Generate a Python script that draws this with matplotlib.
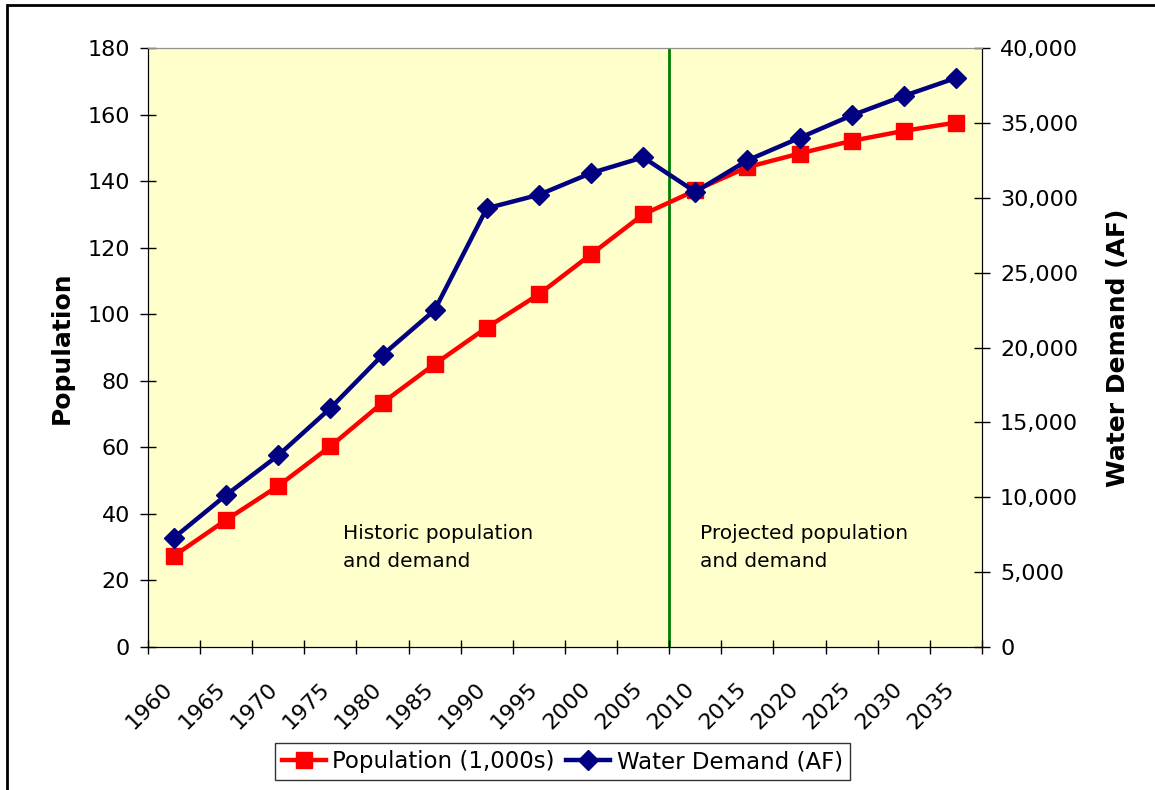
import numpy as np
import matplotlib.pyplot as plt
from matplotlib.patches import Rectangle
from matplotlib.ticker import FuncFormatter

plt.rcParams['font.family'] = ['DejaVu Sans']

# categorias (años) y series
years = ['1960', '1965', '1970', '1975', '1980', '1985', '1990', '1995',
         '2000', '2005', '2010', '2015', '2020', '2025', '2030', '2035']
population = [27.4, 38.2, 48.4, 60.3, 73.4, 85.0, 96.0, 106.0,
              118.0, 130.0, 137.2, 144.2, 148.3, 152.1, 155.1, 157.6]
demand = [7300, 10150, 12800, 15950, 19500, 22500, 29300, 30200,
          31650, 32700, 30400, 32500, 34000, 35500, 36800, 38000]
split_year = '2010'

n = len(years)
xpos = np.arange(n) + 0.5

fig = plt.figure(figsize=(11.55, 7.9), dpi=100)
ax = fig.add_axes([0.1281, 0.181, 0.7221, 0.7582])
ax.set_facecolor('#FFFFCC')
ax2 = ax.twinx()

# linea que separa historico / proyectado
ax.axvline(years.index(split_year), color='#008000', lw=2, zorder=1)

l1, = ax.plot(xpos, population, color='#FF0000', lw=3.2, marker='s',
              markersize=12, label='Population (1,000s)', zorder=3)
l2, = ax2.plot(xpos, demand, color='#000080', lw=3.2, marker='D',
               markersize=10, label='Water Demand (AF)', zorder=3)

ax.set_xlim(0, n)
ax.set_ylim(0, 180)
ax.set_yticks(np.arange(0, 181, 20))
ax2.set_ylim(0, 40000)
ax2.set_yticks(np.arange(0, 40001, 5000))
ax2.yaxis.set_major_formatter(FuncFormatter(lambda v, p: f'{int(v):,}'))

# marcas en los limites de categoria, etiquetas giradas
ax.set_xticks(np.arange(n + 1))
ax.set_xticklabels([])
ax.set_xticks(np.arange(n) + 0.42, minor=True)
ax.set_xticklabels(years, minor=True, rotation=45, ha='right', va='center',
                   rotation_mode='anchor', fontsize=16)
ax.tick_params(axis='x', which='minor', length=0, pad=28)
ax.tick_params(axis='x', which='major', direction='inout', length=9.5, width=1)
ax.tick_params(axis='y', direction='inout', length=12, width=1, labelsize=16, pad=7)
ax2.tick_params(axis='y', direction='inout', length=12, width=1, labelsize=16, pad=7)

for a in (ax, ax2):
    a.spines['top'].set_color('#909090')
    a.spines['left'].set_color('black')
    a.spines['right'].set_color('black')
    a.spines['bottom'].set_color('black')

ax.set_ylabel('Population', fontsize=18, fontweight='bold', labelpad=10)
ax2.set_ylabel('Water Demand (AF)', fontsize=18, fontweight='bold', labelpad=20)

ax.text(3.75, 30, 'Historic population\nand demand', fontsize=14.5,
        linespacing=1.6, va='center', ha='left')
ax.text(10.6, 30, 'Projected population\nand demand', fontsize=14.5,
        linespacing=1.6, va='center', ha='left')

leg = fig.legend(handles=[l1, l2], loc='center', bbox_to_anchor=(0.487, 0.036),
                 ncol=2, fontsize=16.5, frameon=True, fancybox=False,
                 edgecolor='black', handlelength=1.9, handletextpad=0.3,
                 columnspacing=0.5, borderpad=0.3, borderaxespad=0)
leg.get_frame().set_linewidth(1.0)

# marco exterior del grafico
fig.patches.append(Rectangle((0.006, -0.05), 1.1, 0.9937 + 0.05,
                             transform=fig.transFigure, fill=False,
                             edgecolor='black', lw=2, clip_on=False))

fig.savefig('out.png', dpi=100)
